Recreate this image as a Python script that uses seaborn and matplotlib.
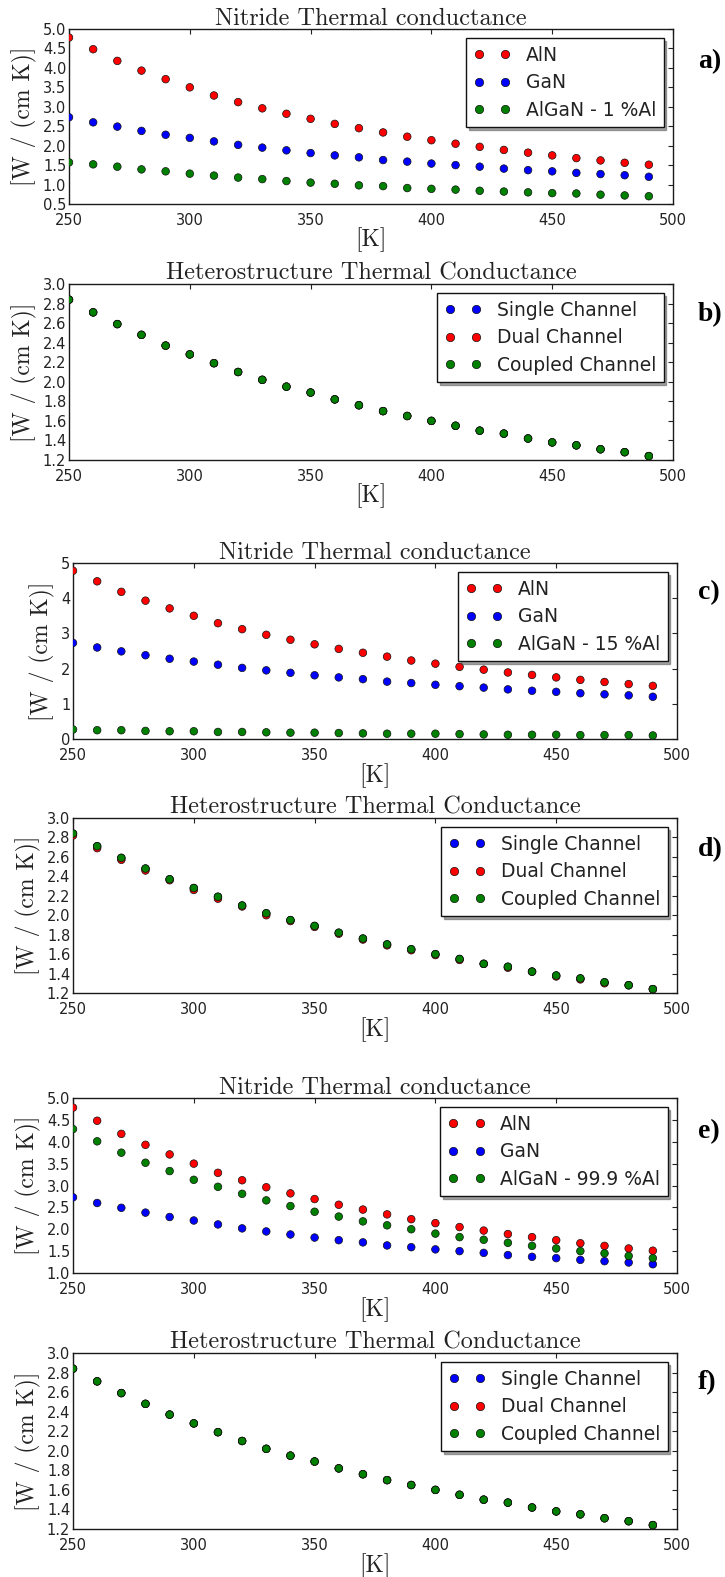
import matplotlib
matplotlib.use("Agg")
import matplotlib.pyplot as plt
from matplotlib.lines import Line2D
import pandas as pd
import seaborn as sns

# Temperatures [K]
temperature = [250, 260, 270, 280, 290, 300, 310, 320, 330, 340, 350, 360, 370,
               380, 390, 400, 410, 420, 430, 440, 450, 460, 470, 480, 490]

# Nitride thermal conductance [W / (cm K)]
k_aln = [4.78, 4.48, 4.18, 3.93, 3.71, 3.50, 3.29, 3.12, 2.96, 2.82, 2.69, 2.56, 2.45,
         2.34, 2.23, 2.14, 2.05, 1.97, 1.89, 1.82, 1.75, 1.68, 1.62, 1.56, 1.51]
k_gan = [2.73, 2.60, 2.49, 2.38, 2.28, 2.20, 2.11, 2.02, 1.95, 1.88, 1.81, 1.75, 1.70,
         1.63, 1.59, 1.54, 1.50, 1.46, 1.41, 1.37, 1.34, 1.30, 1.27, 1.24, 1.20]
k_algan_1 = [1.57, 1.52, 1.46, 1.39, 1.34, 1.28, 1.23, 1.18, 1.14, 1.09, 1.05, 1.02, 0.98,
             0.96, 0.91, 0.89, 0.87, 0.84, 0.82, 0.80, 0.78, 0.77, 0.74, 0.72, 0.70]
k_algan_15 = [0.27, 0.25, 0.25, 0.23, 0.22, 0.22, 0.20, 0.20, 0.19, 0.18, 0.18, 0.17, 0.16,
              0.15, 0.15, 0.15, 0.14, 0.13, 0.12, 0.12, 0.12, 0.11, 0.11, 0.11, 0.10]
k_algan_999 = [4.29, 4.01, 3.75, 3.52, 3.33, 3.13, 2.97, 2.81, 2.66, 2.53, 2.40, 2.29, 2.18,
               2.09, 2.00, 1.90, 1.82, 1.76, 1.69, 1.62, 1.56, 1.50, 1.45, 1.39, 1.34]

# Heterostructure thermal conductance [W / (cm K)]
k_coupled = [2.84, 2.71, 2.59, 2.48, 2.37, 2.28, 2.19, 2.10, 2.02, 1.95, 1.89, 1.82, 1.76,
             1.70, 1.65, 1.60, 1.55, 1.50, 1.47, 1.42, 1.38, 1.35, 1.31, 1.28, 1.24]
k_dual_15 = [2.82, 2.69, 2.57, 2.46, 2.36, 2.26, 2.17, 2.09, 2.00, 1.94, 1.88, 1.81, 1.75,
             1.69, 1.64, 1.59, 1.54, 1.50, 1.46, 1.42, 1.37, 1.34, 1.30, 1.28, 1.24]

nitride_labels = ["AlN", "GaN"]
hetero_labels = ["Single Channel", "Dual Channel", "Coupled Channel"]
algan_labels = ["AlGaN - 1 %Al", "AlGaN - 15 %Al", "AlGaN - 99.9 %Al"]
panel_tags = ["a)", "b)", "c)", "d)", "e)", "f)"]

nitride_title = "Nitride Thermal conductance"
hetero_title = "Heterostructure Thermal Conductance"
y_label = "[W / (cm K)]"
x_label = "[K]"

W, H = 725, 1577
sns.set_theme(style="white")
plt.rcParams.update({
    "font.family": ["DejaVu Sans"],
    "axes.edgecolor": "#1a1a1a",
    "axes.linewidth": 1.0,
    "xtick.direction": "in",
    "ytick.direction": "in",
    "xtick.top": True,
    "ytick.right": True,
    "xtick.color": "#222222",
    "ytick.color": "#222222",
    "xtick.major.size": 3.5,
    "ytick.major.size": 3.5,
    "xtick.major.width": 0.8,
    "ytick.major.width": 0.8,
    "xtick.labelsize": 10.5,
    "ytick.labelsize": 10.5,
})

fig = plt.figure(figsize=(W / 100, H / 100), dpi=100)

# axes boxes in pixels: left, right, top, bottom
boxes = [
    (69, 673, 29, 204),
    (69, 673, 284, 460),
    (73, 677, 563, 739),
    (73, 677, 818, 993),
    (73, 677, 1098, 1273),
    (73, 677, 1353, 1529),
]
tag_y = [62, 315, 593, 850, 1132, 1383]

panels = [
    dict(kind="nitride", series=[k_aln, k_gan, k_algan_1],
         labels=nitride_labels + [algan_labels[0]], colors=["#ff0000", "#0000ff", "#008000"],
         ylim=(0.5, 5.0), yticks=[0.5, 1.0, 1.5, 2.0, 2.5, 3.0, 3.5, 4.0, 4.5, 5.0], fmt="{:.1f}"),
    dict(kind="hetero", series=[k_coupled, k_coupled, k_coupled],
         labels=hetero_labels, colors=["#0000ff", "#ff0000", "#008000"],
         ylim=(1.2, 3.0), yticks=[1.2, 1.4, 1.6, 1.8, 2.0, 2.2, 2.4, 2.6, 2.8, 3.0], fmt="{:.1f}"),
    dict(kind="nitride", series=[k_aln, k_gan, k_algan_15],
         labels=nitride_labels + [algan_labels[1]], colors=["#ff0000", "#0000ff", "#008000"],
         ylim=(0, 5), yticks=[0, 1, 2, 3, 4, 5], fmt="{:.0f}"),
    dict(kind="hetero", series=[k_coupled, k_dual_15, k_coupled],
         labels=hetero_labels, colors=["#0000ff", "#ff0000", "#008000"],
         ylim=(1.2, 3.0), yticks=[1.2, 1.4, 1.6, 1.8, 2.0, 2.2, 2.4, 2.6, 2.8, 3.0], fmt="{:.1f}"),
    dict(kind="nitride", series=[k_aln, k_gan, k_algan_999],
         labels=nitride_labels + [algan_labels[2]], colors=["#ff0000", "#0000ff", "#008000"],
         ylim=(1.0, 5.0), yticks=[1.0, 1.5, 2.0, 2.5, 3.0, 3.5, 4.0, 4.5, 5.0], fmt="{:.1f}"),
    dict(kind="hetero", series=[k_coupled, k_coupled, k_coupled],
         labels=hetero_labels, colors=["#0000ff", "#ff0000", "#008000"],
         ylim=(1.2, 3.0), yticks=[1.2, 1.4, 1.6, 1.8, 2.0, 2.2, 2.4, 2.6, 2.8, 3.0], fmt="{:.1f}"),
]

serif = ["cmr10", "DejaVu Serif"]

for i, p in enumerate(panels):
    l, r, t, b = boxes[i]
    ax = fig.add_axes([l / W, 1 - b / H, (r - l) / W, (b - t) / H])

    frames = []
    for vals, lab in zip(p["series"], p["labels"]):
        frames.append(pd.DataFrame({"T": temperature, "k": vals, "series": lab}))
    df = pd.concat(frames, ignore_index=True)

    sns.scatterplot(data=df, x="T", y="k", hue="series", hue_order=p["labels"],
                    palette=dict(zip(p["labels"], p["colors"])), s=30,
                    edgecolor="#111111", linewidth=0.5, legend=False, ax=ax, zorder=3)

    ax.set_xlim(250, 500)
    ax.set_xticks([250, 300, 350, 400, 450, 500])
    ax.set_ylim(*p["ylim"])
    ax.set_yticks(p["yticks"])
    ax.set_yticklabels([p["fmt"].format(v) for v in p["yticks"]])
    ax.tick_params(axis="x", pad=6.3)
    ax.tick_params(axis="y", pad=2)
    for s in ax.spines.values():
        s.set_visible(True)

    title = nitride_title if p["kind"] == "nitride" else hetero_title
    ax.set_title(title, family=serif, fontsize=17.5, color="#222222", pad=3)
    ax.set_xlabel(x_label, family=serif, fontsize=17, color="#222222", labelpad=0)
    ax.set_ylabel(y_label, family=serif, fontsize=17, color="#222222", labelpad=4)

    handles = [Line2D([], [], marker="o", linestyle="", color=c, markeredgecolor="#111111",
                      markeredgewidth=0.5, markersize=6) for c in p["colors"]]
    leg = ax.legend(handles, p["labels"], loc="upper right", numpoints=2, fontsize=13.5,
                    frameon=True, fancybox=False, shadow=True, edgecolor="#111111",
                    framealpha=1.0, borderpad=0.4, labelspacing=0.45, handlelength=2.0,
                    handletextpad=0.8, borderaxespad=0.5)
    leg.get_frame().set_linewidth(1.0)
    for txt in leg.get_texts():
        txt.set_color("#222222")

    fig.text(698 / W, 1 - tag_y[i] / H, panel_tags[i], family=["Liberation Serif"],
             fontweight="bold", fontsize=20, ha="left", va="center", color="black")

fig.savefig("out.png", dpi=100)
